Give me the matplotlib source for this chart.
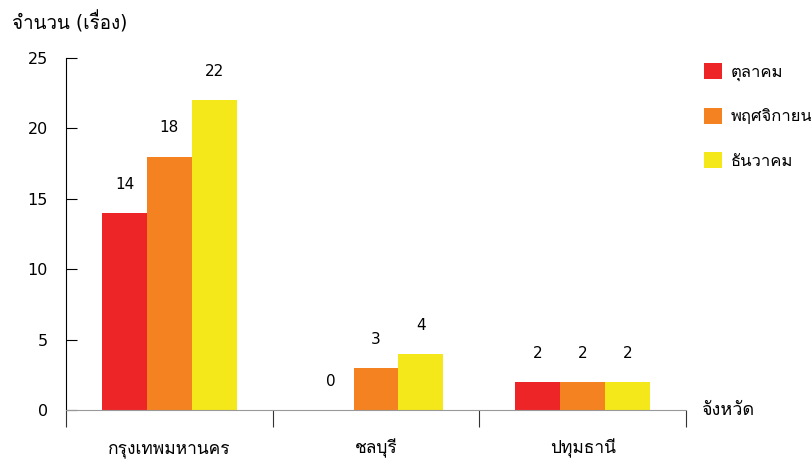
import matplotlib
matplotlib.use('Agg')
import matplotlib.pyplot as plt
from matplotlib import font_manager
from matplotlib.ft2font import FT2Font
import numpy as np

# find an installed family that has Thai glyphs
thai_fams = []
for f in font_manager.fontManager.ttflist:
    try:
        if 0x0E01 in FT2Font(f.fname).get_charmap():
            if f.name not in thai_fams:
                thai_fams.append(f.name)
    except Exception:
        pass
plt.rcParams['font.family'] = ['DejaVu Sans'] + thai_fams

provinces = ['กรุงเทพมหานคร', 'ชลบุรี', 'ปทุมธานี']
months = ['ตุลาคม', 'พฤศจิกายน', 'ธันวาคม']
oct_vals = [14, 0, 2]
nov_vals = [18, 3, 2]
dec_vals = [22, 4, 2]
colors = ['#ee2527', '#f58220', '#f5e81a']

fig = plt.figure(figsize=(8.12, 4.61), dpi=100)
ax = fig.add_axes([0.0813, 0.1106, 0.7635, 0.7636])

x = np.arange(len(provinces))
w = 0.217
for i, (vals, lab, c) in enumerate(zip([oct_vals, nov_vals, dec_vals], months, colors)):
    pos = x + (i - 1) * w
    ax.bar(pos, vals, w, color=c, label=lab)
    for p, v in zip(pos, vals):
        ax.text(p, v + 1.5, str(v), ha='center', va='bottom', fontsize=11)

ax.set_xlim(-0.5, 2.5)
ax.set_ylim(0, 25)
ax.set_yticks([0, 5, 10, 15, 20, 25])
ax.tick_params(axis='y', direction='in', length=8, labelsize=11.5, pad=13)
ax.set_xticks([-0.5, 0.5, 1.5, 2.5], minor=False)
ax.set_xticklabels([])
ax.tick_params(axis='x', direction='out', length=12, color='#333333')
for xi, name in zip(x, provinces):
    ax.text(xi, -2.75, name, ha='center', va='center', fontsize=12.5)
ax.spines['top'].set_visible(False)
ax.spines['right'].set_visible(False)
ax.spines['bottom'].set_color('#999999')
ax.text(-0.087, 1.1, 'จำนวน (เรื่อง)', transform=ax.transAxes, fontsize=13.5,
        ha='left', va='center')
ax.text(1.025, 0.0, 'จังหวัด', transform=ax.transAxes, fontsize=13, ha='left', va='center')

ax.legend(loc='upper left', bbox_to_anchor=(1.005, 1.03), frameon=False, fontsize=12,
          handlelength=1.1, handleheight=1.1, labelspacing=1.6, handletextpad=0.5)

fig.savefig('out.png', dpi=100)
